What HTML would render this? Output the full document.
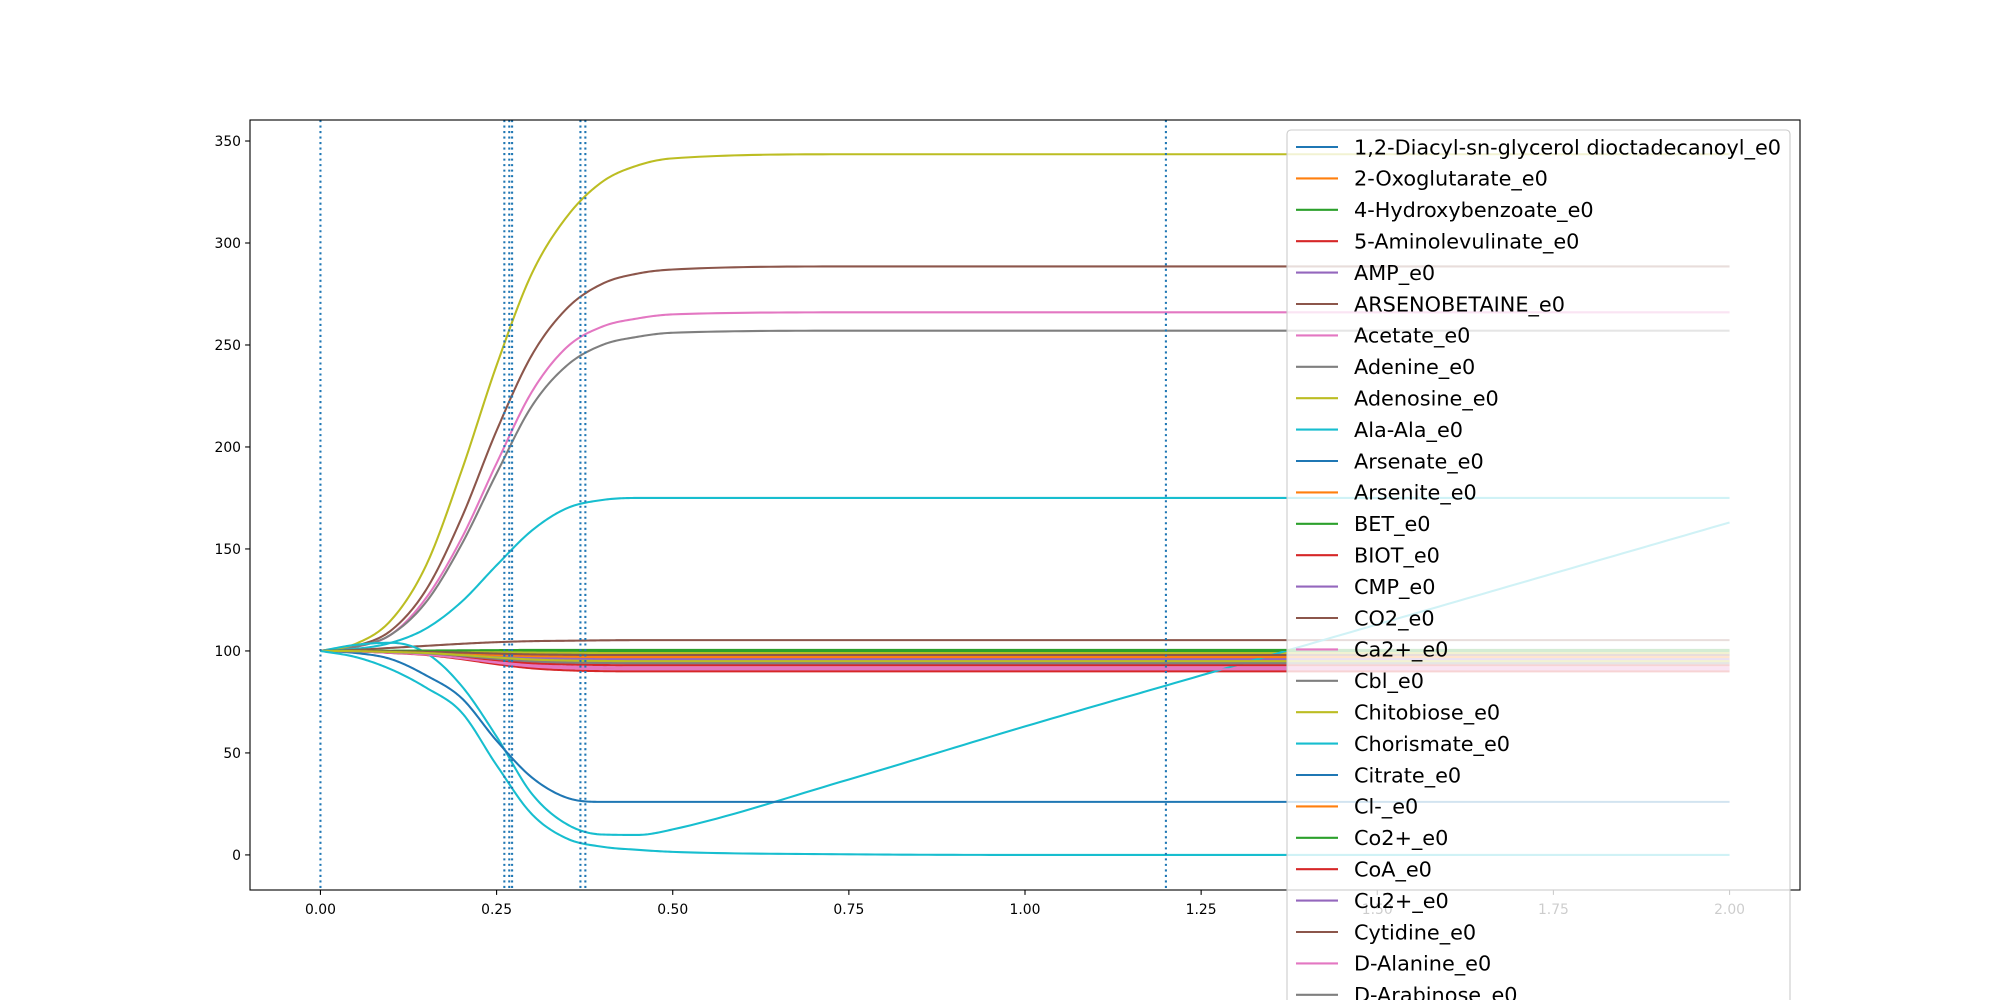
<!DOCTYPE html>
<html><head><meta charset="utf-8"><style>
html,body{margin:0;padding:0;background:#fff;width:2000px;height:1000px;overflow:hidden}
svg{font-family:"DejaVu Sans","Liberation Sans",sans-serif;display:block;overflow:hidden}
</style></head><body>
<svg id="chart" width="2000" height="1000" xmlns="http://www.w3.org/2000/svg">
<defs><clipPath id="clip"><rect x="250" y="120" width="1550" height="770"/></clipPath></defs>
<g id="lines" clip-path="url(#clip)"></g>
<g id="vlines" clip-path="url(#clip)"></g>
<g id="axes"></g>
<g id="legend"></g>
</svg>
<script>
const times = [0,0.05,0.1,0.15,0.2,0.25,0.3,0.35,0.4,0.45,0.5,0.75,1,1.25,1.5,1.75,2];
const names = ["1,2-Diacyl-sn-glycerol dioctadecanoyl_e0","2-Oxoglutarate_e0","4-Hydroxybenzoate_e0","5-Aminolevulinate_e0","AMP_e0","ARSENOBETAINE_e0","Acetate_e0","Adenine_e0","Adenosine_e0","Ala-Ala_e0","Arsenate_e0","Arsenite_e0","BET_e0","BIOT_e0","CMP_e0","CO2_e0","Ca2+_e0","Cbl_e0","Chitobiose_e0","Chorismate_e0","Citrate_e0","Cl-_e0","Co2+_e0","CoA_e0","Cu2+_e0","Cytidine_e0","D-Alanine_e0","D-Arabinose_e0","D-Fructose_e0","D-Galactose_e0"];
const s0 = [100,100,99.9,99.8,99.6,99.4,99.2,99.1,99,99,99,99,99,99,99,99,99];
const s1 = [100,99.9,99.6,99.2,98.4,97.4,96.6,96.2,96,96,96,96,96,96,96,96,96];
const s2 = [100,100,99.9,99.8,99.6,99.4,99.2,99.1,99,99,99,99,99,99,99,99,99];
const s3 = [100,99.8,99,98,96,93.5,91.5,90.5,90.1,90,90,90,90,90,90,90,90];
const s4 = [100,99.9,99.7,99.4,98.8,98,97.5,97.2,97,97,97,97,97,97,97,97,97];
const s5 = [100,102.5,110,130,165,208,245,268,280,285,287,288.5,288.5,288.5,288.5,288.5,288.5];
const s6 = [100,102,108,126,155,192,227,249,259,263,265,266,266,266,266,266,266];
const s7 = [100,102,108,124,152,187,220,240,250,254,256,257,257,257,257,257,257];
const s8 = [100,103.5,115,142,188,240,285,313,330,338,341.5,343.5,343.5,343.5,343.5,343.5,343.5];
const s9 = [100,101,104,111,124,142,159,170,174,175,175,175,175,175,175,175,175];
const s10 = [100,100,99.8,99.6,99.2,98.7,98.3,98.1,98,98,98,98,98,98,98,98,98];
const s11 = [100,99.9,99.5,99,98,96.8,95.8,95.3,95.1,95,95,95,95,95,95,95,95];
const s12 = [100,100,100,100,100,100,100,100,100,100,100,100,100,100,100,100,100];
const s13 = [100,99.8,99.1,98.2,96.4,94.2,92.4,91.5,91.1,91,91,91,91,91,91,91,91];
const s14 = [100,99.9,99.6,99.2,98.4,97.4,96.6,96.2,96,96,96,96,96,96,96,96,96];
const s15 = [100,100.5,101.5,102.5,103.5,104.3,104.8,105,105.2,105.3,105.3,105.3,105.3,105.3,105.3,105.3,105.3];
const s16 = [100,99.8,99.2,98.4,96.8,94.8,93.2,92.4,92.1,92,92,92,92,92,92,92,92];
const s17 = [100,99.9,99.4,98.8,97.6,96.1,94.9,94.3,94.1,94,94,94,94,94,94,94,94];
const s18 = [100,100,99.9,99.8,99.6,99.4,99.2,99.1,99,99,99,99,99,99,99,99,99];
const s19 = [100,103,104,99,83,58,30,15,10,9.8,12.5,37,63,88,113,138,163];
const s20 = [100,99,96,88,77,56,38,28,26,26,26,26,26,26,26,26,26];
const s21 = [100,99.9,99.7,99.4,98.8,98,97.5,97.2,97,97,97,97,97,97,97,97,97];
const s22 = [100,100,100.1,100.2,100.3,100.4,100.5,100.5,100.5,100.5,100.5,100.5,100.5,100.5,100.5,100.5,100.5];
const s23 = [100,99.9,99.3,98.6,97.2,95.5,94,93.4,93.1,93,93,93,93,93,93,93,93];
const s24 = [100,99.9,99.5,99,98,96.8,95.8,95.3,95.1,95,95,95,95,95,95,95,95];
const s25 = [100,100,99.8,99.6,99.2,98.7,98.3,98.1,98,98,98,98,98,98,98,98,98];
const s26 = [100,99.8,99.1,98.2,96.4,94.2,92.4,91.5,91.1,91,91,91,91,91,91,91,91];
const s27 = [100,99.9,99.4,98.8,97.6,96.1,94.9,94.3,94.1,94,94,94,94,94,94,94,94];
const s28 = [100,99.9,99.5,99,98,96.8,95.8,95.3,95.1,95,95,95,95,95,95,95,95];
const s29 = [100,97,91,82,70,44,20,8,4,2.5,1.5,0.3,0,0,0,0,0];
const series = [s0,s1,s2,s3,s4,s5,s6,s7,s8,s9,s10,s11,s12,s13,s14,s15,s16,s17,s18,s19,s20,s21,s22,s23,s24,s25,s26,s27,s28,s29];
const eventTimes = [0,0.261,0.268,0.272,0.369,0.376,1.2];
const xTicks = [0,0.25,0.5,0.75,1,1.25,1.5,1.75,2];
const xTickLabels = ["0.00","0.25","0.50","0.75","1.00","1.25","1.50","1.75","2.00"];
const yTicks = [0,50,100,150,200,250,300,350];
const yTickLabels = ["0","50","100","150","200","250","300","350"];
const colors = ["#1f77b4","#ff7f0e","#2ca02c","#d62728","#9467bd","#8c564b","#e377c2","#7f7f7f","#bcbd22","#17becf"];

const X0=250,X1=1800,Y0=890,Y1=120, xmin=-0.1,xmax=2.1,ymin=-17.2,ymax=360.3;
const xs = v => X0 + (v-xmin)/(xmax-xmin)*(X1-X0);
const ys = v => Y0 - (v-ymin)/(ymax-ymin)*(Y0-Y1);
const NS="http://www.w3.org/2000/svg";
function mk(tag, attrs, parent){const e=document.createElementNS(NS,tag);for(const k in attrs)e.setAttribute(k,attrs[k]);parent.appendChild(e);return e;}

function monotone(xa, ya){
  const n=xa.length, d=[], m=new Array(n);
  for(let i=0;i<n-1;i++) d.push((ya[i+1]-ya[i])/(xa[i+1]-xa[i]));
  m[0]=d[0]; m[n-1]=d[n-2];
  for(let i=1;i<n-1;i++){ m[i]=(d[i-1]*d[i]<=0)?0:(d[i-1]+d[i])/2; }
  for(let i=0;i<n-1;i++){ if(d[i]===0){m[i]=0;m[i+1]=0;continue;} const a=m[i]/d[i],b=m[i+1]/d[i],s=a*a+b*b; if(s>9){const t=3/Math.sqrt(s);m[i]=t*a*d[i];m[i+1]=t*b*d[i];} }
  const pts=[];
  for(let i=0;i<n-1;i++){ const h=xa[i+1]-xa[i]; const steps=20;
    for(let k=(i===0?0:1);k<=steps;k++){ const t=k/steps; const h00=2*t*t*t-3*t*t+1,h10=t*t*t-2*t*t+t,h01=-2*t*t*t+3*t*t,h11=t*t*t-t*t;
      pts.push([xa[i]+t*h, h00*ya[i]+h10*h*m[i]+h01*ya[i+1]+h11*h*m[i+1]]); } }
  return pts;
}

const gl=document.getElementById('lines');
series.forEach((vals,i)=>{
  const pts=monotone(times,vals);
  const p=mk('path',{d:'M'+pts.map(q=>xs(q[0]).toFixed(2)+','+ys(q[1]).toFixed(2)).join('L'),fill:'none',stroke:colors[i%10],'stroke-width':2.08},gl);
  
  
});
const gv=document.getElementById('vlines');
eventTimes.forEach(t=>{
  const l=mk('line',{x1:xs(t),x2:xs(t),y1:Y1,y2:Y0,stroke:'#1f77b4','stroke-width':2.08,'stroke-dasharray':'2.08,3.43'},gv);
  
  
});
const ga=document.getElementById('axes');
const frame=mk('rect',{x:X0,y:Y1,width:X1-X0,height:Y0-Y1,fill:'none',stroke:'#000','stroke-width':1.1},ga);


xTicks.forEach((t,i)=>{
  mk('line',{x1:xs(t),x2:xs(t),y1:Y0,y2:Y0+4.9,stroke:'#000','stroke-width':1.1},ga);
  const tx=mk('text',{x:xs(t),y:Y0+24,'text-anchor':'middle','font-size':13.9,fill:'#000'},ga);
  tx.textContent=xTickLabels[i];
  
  
});
yTicks.forEach((t,i)=>{
  mk('line',{x1:X0-4.9,x2:X0,y1:ys(t),y2:ys(t),stroke:'#000','stroke-width':1.1},ga);
  const tx=mk('text',{x:X0-9,y:ys(t)+5,'text-anchor':'end','font-size':13.9,fill:'#000'},ga);
  tx.textContent=yTickLabels[i];
  
  
});
const lg=document.getElementById('legend');
const box=mk('rect',{x:1287,y:130,width:503,height:880,rx:4,fill:'#fff','fill-opacity':0.8,stroke:'#cccccc','stroke-width':1.1},lg);


names.forEach((n,i)=>{
  const y=147+i*31.4;
  if(y>1010) return;
  const l=mk('line',{x1:1296,x2:1338,y1:y,y2:y,stroke:colors[i%10],'stroke-width':2.08},lg);
  
  
  const t=mk('text',{x:1354,y:y+7.3,'font-size':20.8,fill:'#000'},lg);
  t.textContent=n;
  
  
});
</script>
</body></html>
